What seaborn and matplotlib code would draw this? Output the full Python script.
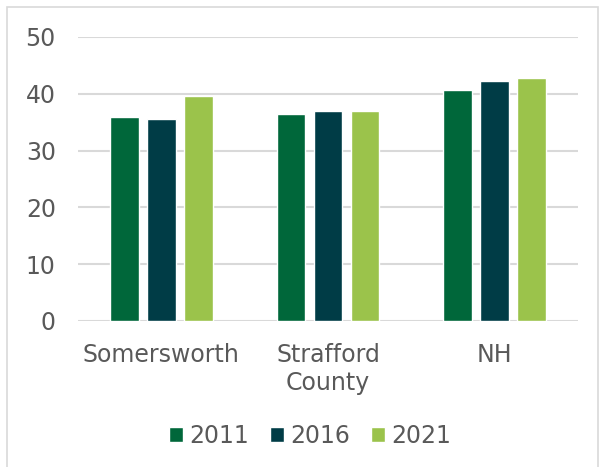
import matplotlib
matplotlib.use("Agg")
import matplotlib.pyplot as plt
import seaborn as sns
import pandas as pd
from matplotlib.patches import Rectangle

categories = ["Somersworth", "Strafford\nCounty", "NH"]
years = ["2011", "2016", "2021"]
v2011 = [36.0, 36.5, 40.6]
v2016 = [35.5, 37.0, 42.3]
v2021 = [39.6, 36.9, 42.8]
colors = ["#00673A", "#003C46", "#9BC34B"]

rows = []
for yr, vals in zip(years, [v2011, v2016, v2021]):
    for c, v in zip(categories, vals):
        rows.append({"cat": c, "year": yr, "value": v})
df = pd.DataFrame(rows)

sns.set_style("white")
plt.rcParams['font.family'] = ['DejaVu Sans']
fig = plt.figure(figsize=(6.01, 4.67), dpi=100)
W, H = 601, 467
ax = fig.add_axes([78 / W, 1 - 321 / H, 500 / W, (321 - 37) / H])

sns.barplot(data=df, x="cat", y="value", hue="year", palette=colors,
            width=0.666, gap=0.22, ax=ax, saturation=1, legend=True)

FS = 17
ax.set_ylim(0, 50)
ax.set_xlim(-0.5, 2.5)
ax.set_yticks([0, 10, 20, 30, 40, 50])
ax.yaxis.grid(True, color="#D9D9D9", lw=1.5)
ax.set_axisbelow(True)
for s in ax.spines.values():
    s.set_visible(False)
ax.set_xlabel("")
ax.set_ylabel("")
ax.tick_params(axis="both", length=0, labelsize=FS, labelcolor="#595959")
ax.tick_params(axis="y", pad=16)
ax.tick_params(axis="x", pad=16)
for t in ax.get_xticklabels():
    t.set_linespacing(1.2)

leg = ax.legend(loc="center", bbox_to_anchor=(310 / W, 1 - 436 / H),
                bbox_transform=fig.transFigure, ncol=3, frameon=False,
                fontsize=FS, handlelength=0.6, handleheight=0.6,
                handletextpad=0.25, columnspacing=0.9)
for t in leg.get_texts():
    t.set_color("#595959")

fig.patches.append(Rectangle((7 / W, -0.01), (598 - 7) / W, 1 - 7 / H + 0.01,
                             transform=fig.transFigure, fill=False,
                             edgecolor="#D9D9D9", lw=1.2))

fig.savefig("out.png", dpi=100)
